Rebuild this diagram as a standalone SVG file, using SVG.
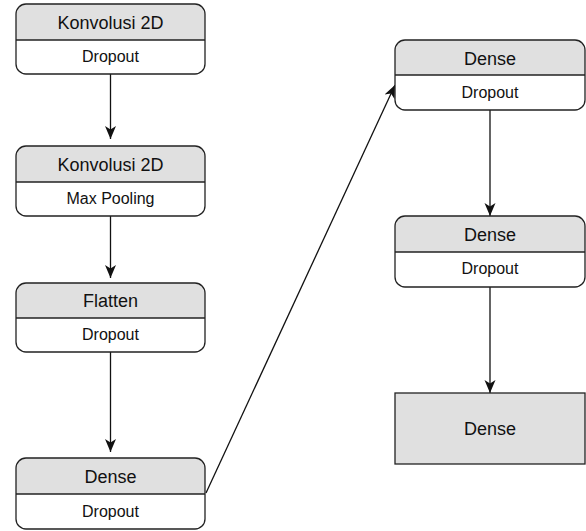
<svg xmlns="http://www.w3.org/2000/svg" width="586" height="531" viewBox="0 0 586 531">
<style>
.bg{fill:#fff}
.hd{fill:#e0e0e0}
.ol{fill:none;stroke:#222;stroke-width:1.3}
.dv{stroke:#222;stroke-width:1.3}
.t1{font-family:"Liberation Sans",Arial,sans-serif;font-size:18px;fill:#111;text-anchor:middle}
.t2{font-family:"Liberation Sans",Arial,sans-serif;font-size:16px;fill:#111;text-anchor:middle}
.cn{stroke:#111;stroke-width:1.3;fill:none;marker-end:url(#ah)}
</style>
<defs>
<marker id="ah" markerUnits="userSpaceOnUse" markerWidth="14" markerHeight="12" refX="13" refY="6" orient="auto" viewBox="0 0 14 12">
<path d="M0,0.5 L13,6 L0,11.5 L3.5,6 z" fill="#111"/>
</marker>
</defs>
<rect width="586" height="531" fill="#fff"/>
<g id="connectors">
<line class="cn" x1="110.5" y1="74" x2="110.5" y2="139"/>
<line class="cn" x1="110.5" y1="216" x2="110.5" y2="278"/>
<line class="cn" x1="110.5" y1="352" x2="110.5" y2="452"/>
<line class="cn" x1="206" y1="493" x2="395" y2="85"/>
<line class="cn" x1="490" y1="110" x2="490" y2="216"/>
<line class="cn" x1="490" y1="287" x2="490" y2="393"/>
</g>
<g id="n1">
<rect class="bg" x="16" y="4" width="189" height="70" rx="10"/>
<path class="hd" d="M16,40 V14 A10,10 0 0 1 26,4 H195 A10,10 0 0 1 205,14 V40 Z"/>
<line class="dv" x1="16" y1="40" x2="205" y2="40"/>
<rect class="ol" x="16" y="4" width="189" height="70" rx="10"/>
<text class="t1" x="110.5" y="28.5">Konvolusi 2D</text>
<text class="t2" x="110.5" y="61.5">Dropout</text>
</g>
<g id="n2">
<rect class="bg" x="16" y="146" width="189" height="70" rx="10"/>
<path class="hd" d="M16,182 V156 A10,10 0 0 1 26,146 H195 A10,10 0 0 1 205,156 V182 Z"/>
<line class="dv" x1="16" y1="182" x2="205" y2="182"/>
<rect class="ol" x="16" y="146" width="189" height="70" rx="10"/>
<text class="t1" x="110.5" y="170.5">Konvolusi 2D</text>
<text class="t2" x="110.5" y="203.5">Max Pooling</text>
</g>
<g id="n3">
<rect class="bg" x="16" y="283" width="189" height="69" rx="10"/>
<path class="hd" d="M16,318 V293 A10,10 0 0 1 26,283 H195 A10,10 0 0 1 205,293 V318 Z"/>
<line class="dv" x1="16" y1="318" x2="205" y2="318"/>
<rect class="ol" x="16" y="283" width="189" height="69" rx="10"/>
<text class="t1" x="110.5" y="306.5">Flatten</text>
<text class="t2" x="110.5" y="339.5">Dropout</text>
</g>
<g id="n4">
<rect class="bg" x="16" y="458" width="189" height="71" rx="10"/>
<path class="hd" d="M16,494 V468 A10,10 0 0 1 26,458 H195 A10,10 0 0 1 205,468 V494 Z"/>
<line class="dv" x1="16" y1="494" x2="205" y2="494"/>
<rect class="ol" x="16" y="458" width="189" height="71" rx="10"/>
<text class="t1" x="110.5" y="482.5">Dense</text>
<text class="t2" x="110.5" y="516.5">Dropout</text>
</g>
<g id="n5">
<rect class="bg" x="395" y="40" width="190" height="70" rx="10"/>
<path class="hd" d="M395,75 V50 A10,10 0 0 1 405,40 H575 A10,10 0 0 1 585,50 V75 Z"/>
<line class="dv" x1="395" y1="75" x2="585" y2="75"/>
<rect class="ol" x="395" y="40" width="190" height="70" rx="10"/>
<text class="t1" x="490" y="64.5">Dense</text>
<text class="t2" x="490" y="97.5">Dropout</text>
</g>
<g id="n6">
<rect class="bg" x="395" y="216" width="190" height="71" rx="10"/>
<path class="hd" d="M395,252 V226 A10,10 0 0 1 405,216 H575 A10,10 0 0 1 585,226 V252 Z"/>
<line class="dv" x1="395" y1="252" x2="585" y2="252"/>
<rect class="ol" x="395" y="216" width="190" height="71" rx="10"/>
<text class="t1" x="490" y="240.5">Dense</text>
<text class="t2" x="490" y="273.5">Dropout</text>
</g>
<g id="n7">
<rect class="hd" x="395" y="393" width="190" height="71"/>
<rect class="ol" x="395" y="393" width="190" height="71"/>
<text class="t1" x="490" y="434.5">Dense</text>
</g>
</svg>
